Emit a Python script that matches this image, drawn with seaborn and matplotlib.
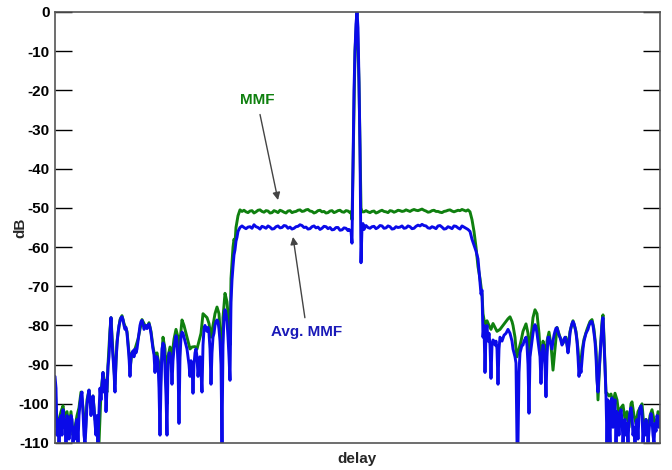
import numpy as np
import pandas as pd
import matplotlib
matplotlib.use("Agg")
import matplotlib.pyplot as plt
import seaborn as sns

# ---------------- data ----------------
yticks = [0, -10, -20, -30, -40, -50, -60, -70, -80, -90, -100, -110]

avg_delay = [
    55, 56, 57, 58, 59, 60, 61, 62, 63, 64, 65, 66, 67, 68, 69, 70, 71, 72, 73, 74,
    75, 76, 77, 78, 79, 80, 81, 82, 83, 84, 85, 86, 87, 88, 89, 90, 91, 92, 93, 94,
    95, 96, 97, 98, 99, 100, 101, 102, 103, 104, 105, 106, 107, 108, 109, 110, 111, 112, 113, 114,
    115, 116, 117, 118, 119, 120, 121, 122, 123, 124, 125, 126, 127, 128, 129, 130, 131, 132, 133, 134,
    135, 136, 137, 138, 139, 140, 141, 142, 143, 144, 145, 146, 147, 148, 149, 150, 151, 152, 153, 154,
    155, 156, 157, 158, 159, 160, 161, 162, 163, 164, 165, 166, 167, 168, 169, 170, 171, 172, 173, 174,
    175, 176, 177, 178, 179, 180, 181, 182, 183, 184, 185, 186, 187, 188, 189, 190, 191, 192, 193, 194,
    195, 196, 197, 198, 199, 200, 201, 202, 203, 204, 205, 206, 207, 208, 209, 210, 211, 212, 213, 214,
    215, 216, 217, 218, 219, 220, 221, 222, 223, 224, 225, 226, 227, 228, 229, 230, 231, 232, 233, 234,
    235, 236, 237, 238, 239, 240,
    242, 244, 246, 248, 250, 252, 254, 256, 258, 260, 262, 264, 266, 268, 270, 272, 274, 276, 278, 280,
    282, 284, 286, 288, 290, 292, 294, 296, 298, 300, 302, 304, 306, 308, 310, 312, 314, 316, 318, 320,
    322, 324, 326, 328, 330, 332, 334, 336, 338, 340, 342, 344, 346, 348, 349,
    351, 352, 353, 354, 355, 356, 357, 358, 359, 360, 361, 362, 363, 364,
    366, 368, 370, 372, 374, 376, 378, 380, 382, 384, 386, 388, 390, 392, 394, 396, 398, 400, 402, 404,
    406, 408, 410, 412, 414, 416, 418, 420, 422, 424, 426, 428, 430, 432, 434, 436, 438, 440, 442, 444,
    446, 448, 450, 452, 454, 456, 458, 460, 462, 464, 466, 468,
    470, 472, 474, 476, 478, 480, 481, 482, 483, 484, 485, 486, 487,
    488, 489, 490, 491, 492, 493, 494, 495, 496, 497, 498, 499, 500, 502, 504, 506, 508, 510, 512, 513,
    514, 515, 516, 517, 518, 519, 520, 521, 522, 523, 524, 525, 526, 527, 528, 529, 530, 531, 532, 533,
    534, 535, 536, 537, 538, 539, 540, 541, 542, 543, 544, 545, 546, 547, 548, 549, 550, 551, 552, 553,
    554, 555, 556, 557, 558, 559, 560, 561, 562, 563, 564, 565, 566, 567, 568, 569, 570, 571, 572, 573,
    574, 575, 576, 577, 578, 579, 580, 581, 582, 583, 584, 585, 586, 587, 588, 589, 590, 591, 592, 593,
    594, 595, 596, 597, 598, 599, 600, 601, 602, 603, 604, 605, 606, 607,
    608, 609, 610, 611, 612, 613, 614, 615, 616, 617, 618, 619, 620, 621, 622, 623, 624, 625, 626, 627,
    628, 629, 630, 631, 632, 633, 634, 635, 636, 637, 638, 639, 640, 641, 642, 643, 644, 645, 646, 647,
    648, 649, 650, 651, 652, 653, 654, 655, 656, 657, 658, 659, 660,
]
avg_db = [
    -93, -96, -108, -104, -110, -105, -103, -108, -101.5, -106, -104, -110, -103, -104, -109, -105, -103, -104, -110, -106,
    -109, -105, -104, -110, -103, -100, -98, -97, -102, -108, -110, -106, -100, -98, -96.5, -99, -103, -100, -98, -101,
    -105, -108, -103, -110, -102, -96, -99, -95, -92, -97, -94, -102, -96, -90.5, -88, -82, -78, -84, -88, -92,
    -97, -89, -85, -82, -80, -79, -78, -77.8, -78.5, -80, -81, -80.5, -82, -85, -88, -93, -88, -87, -86.5, -88,
    -86, -87, -86, -84, -82, -80, -79, -78.7, -79.5, -81, -80.5, -80, -80.8, -80, -79.6, -80.5, -82, -84, -86, -87.5,
    -92, -88, -88, -89, -96, -108, -95, -86, -84.5, -85, -91, -98, -108, -90, -87, -87, -89, -95, -89, -86,
    -84, -82.6, -84, -90, -105, -88, -83, -81.7, -82, -83, -84, -85, -86, -88, -90, -93, -89, -90, -97.3, -90,
    -87, -86, -88, -93, -90, -88, -92, -97, -85, -81, -80, -81, -81.5, -80.5, -82, -86, -95, -87, -83, -82,
    -80, -79, -78.6, -79, -81, -84, -90, -110, -85, -78, -76, -77, -79, -83, -88, -94, -74, -68.4, -65, -62,
    -60.7, -58.5, -57.5, -56, -55.5, -55,
    -54.6, -55.0, -55.3, -54.9, -54.8, -55.2, -54.3, -54.8, -55.0, -55.4, -54.7, -54.9, -55.2, -54.6, -54.9, -55.4, -55.3, -54.8, -54.6, -55.1,
    -55.0, -54.5, -54.6, -55.2, -54.9, -55.4, -55.2, -54.8, -54.7, -54.3, -54.5, -55.0, -54.9, -55.4, -55.3, -54.8, -54.6, -55.1, -54.9, -55.5,
    -55.2, -54.7, -54.8, -55.3, -55.0, -55.6, -55.5, -55.0, -55.0, -55.7, -55.6, -55.1, -55.2, -55.8, -55.5,
    -56, -59, -40, -20, -10, -3, 0, -4, -18, -35, -64, -55, -54, -55.5,
    -54.5, -55.0, -55.2, -54.8, -54.7, -55.3, -55.0, -54.5, -54.6, -55.2, -55.1, -54.6, -54.8, -55.4, -55.3, -54.8, -55.0, -54.9, -54.6, -55.2,
    -55.1, -54.6, -54.8, -55.3, -55.2, -54.7, -54.4, -54.6, -54.2, -54.5, -54.6, -55.1, -55.2, -54.8, -55.0, -55.3, -54.6, -54.5, -54.9, -55.4,
    -55.3, -54.8, -55.0, -55.3, -54.6, -54.7, -55.1, -55.4, -54.6, -54.9, -55.2, -55.5,
    -56, -58, -59.5, -61, -63, -69, -72, -71, -83, -80, -92, -82, -80,
    -84, -82, -85, -93.5, -85, -83.7, -84, -85, -84, -86, -95, -86, -83, -84, -82.5, -82, -81, -82, -84, -86,
    -87, -88, -89.6, -110, -110, -92, -87, -86, -85, -85, -84, -83.5, -83, -85, -90, -102.4, -88, -86, -84, -82,
    -80.5, -79.8, -80.5, -82, -84, -86, -88, -94.8, -88, -85, -86, -90, -98.2, -88, -83, -83, -84, -85, -86, -84,
    -82.5, -81.5, -80.7, -80.6, -81.5, -82.5, -83, -84, -85, -84.5, -83.5, -83, -83.5, -85, -87, -85, -82, -80.5, -79.5, -79,
    -79.5, -80.5, -82, -84, -88, -93, -90, -92, -89, -86, -84, -83, -82, -81.5, -81, -80, -79.5, -79, -79, -80,
    -82, -84, -88, -94, -97, -92, -88, -84, -80, -78, -84, -90.6, -98, -110,
    -99, -104, -110, -100, -98.5, -106, -101, -99, -110, -102, -104, -108, -103, -101.5, -104, -110, -106, -104, -108, -105,
    -110, -104, -102, -101, -103, -108, -106, -110, -105, -104, -109, -103, -101, -100.5, -102, -110, -105, -108, -104, -106,
    -110, -107, -104, -102.5, -104, -108, -110, -105, -107, -103, -104, -106, -103,
]

mmf_delay = [
    55, 57, 59, 61, 63, 65, 67, 69, 71, 73, 75, 77, 79, 81, 83, 85, 87, 89, 91, 93,
    95, 97, 98, 99, 101, 103, 105, 107, 108, 110, 111, 113, 115, 117, 120, 122, 124, 127, 129, 130,
    132, 135, 138, 142, 145, 147, 149, 151, 153, 155, 157, 159, 160, 161, 163, 165, 167, 168, 170, 172,
    174, 176, 178, 179, 180, 182, 184, 186, 188, 190, 192, 195, 197, 199, 201, 203, 205, 207, 209, 211,
    213, 215, 217, 219, 221, 222, 223, 225, 227, 229, 230, 231, 232, 233, 234, 235, 236, 238, 240,
    242, 244, 246, 248, 250, 252, 254, 256, 258, 260, 262, 264, 266, 268, 270, 272, 274, 276, 278, 280,
    282, 284, 286, 288, 290, 292, 294, 296, 298, 300, 302, 304, 306, 308, 310, 312, 314, 316, 318, 320,
    322, 324, 326, 328, 330, 332, 334, 336, 338, 340, 342, 344, 346, 348, 350, 351,
    352, 353, 355, 357, 359, 361, 362,
    364, 366, 368, 370, 372, 374, 376, 378, 380, 382, 384, 386, 388, 390, 392, 394, 396, 398, 400, 402,
    404, 406, 408, 410, 412, 414, 416, 418, 420, 422, 424, 426, 428, 430, 432, 434, 436, 438, 440, 442,
    444, 446, 448, 450, 452, 454, 456, 458, 460, 462, 464, 466, 468,
    470, 472, 474, 476, 478, 480, 482, 483, 485, 487, 489, 491, 493,
    495, 497, 500, 503, 506, 508, 510, 512, 513, 515, 516, 517, 519, 521, 523, 526, 528, 529, 531, 533,
    535, 537, 539, 541, 543, 545, 546, 547, 549, 551, 553, 555, 557, 560, 563, 566, 568, 570, 573, 576,
    578, 579, 581, 582, 584, 587, 590, 592, 594, 596, 598, 600, 602, 603, 604, 605, 606,
    607, 609, 611, 613, 615, 617, 619, 621, 623, 625, 627, 629, 631, 632, 634, 636, 638, 640, 642, 644,
    646, 648, 650, 652, 654, 656, 658, 660,
]
mmf_db = [
    -95, -106, -104, -102, -100.5, -104, -102, -106, -102, -108, -106, -103, -101, -97, -101, -109, -99, -96.5, -101, -98,
    -104, -105, -110, -110, -97, -92, -95, -97, -90, -81, -78, -87, -95, -84, -78.5, -77.5, -79.5, -81.5, -87, -91,
    -87, -86, -83.5, -78.5, -80, -80.5, -79.3, -81.5, -85.5, -88, -87, -90, -100, -92, -83, -86, -100, -88, -85.5, -88,
    -83.5, -81, -83, -95, -84, -78.6, -80, -82, -84, -86, -85.5, -85.4, -86, -84, -82, -77, -77.5, -78, -79.5, -83,
    -80, -77, -75.3, -77, -85, -95, -78, -71.8, -74, -80, -85, -68, -64, -60, -58, -59, -55, -52, -50.5,
    -50.9, -50.6, -51.0, -51.2, -50.8, -50.7, -51.3, -51.0, -50.6, -50.5, -50.9, -51.1, -50.7, -50.8, -51.3, -51.2, -50.7, -50.9, -51.2, -50.6,
    -50.8, -51.1, -51.3, -50.8, -50.7, -51.2, -51.0, -50.9, -50.6, -50.5, -50.9, -50.8, -50.5, -50.4, -50.8, -50.9, -51.3, -51.1, -50.7, -50.6,
    -51.0, -50.9, -51.3, -51.2, -50.8, -50.7, -51.2, -51.0, -50.7, -50.6, -51.0, -51.1, -50.7, -50.8, -51.2, -51.0,
    -53, -40, -10, 0, -18, -50, -51,
    -51.0, -50.7, -51.0, -51.2, -50.9, -50.8, -51.3, -51.1, -50.8, -50.6, -50.9, -51.0, -51.2, -50.7, -50.8, -51.1, -50.9, -50.6, -50.7, -50.9,
    -50.8, -50.5, -50.7, -50.9, -50.6, -50.4, -50.6, -50.7, -50.5, -50.3, -50.6, -50.8, -51.1, -51.0, -50.7, -50.6, -50.9, -50.9, -51.1, -51.2,
    -50.9, -50.8, -50.6, -50.5, -50.8, -51.0, -50.8, -50.6, -50.7, -50.4, -50.6, -50.8, -50.5,
    -51, -53, -56, -60, -65, -68, -72, -77, -80, -78.8, -80, -81, -79.5,
    -80.5, -81.5, -81, -80, -79, -78.3, -77.8, -79, -80, -83, -86, -88, -86, -84, -81.5, -79.6, -82, -90, -83, -78,
    -76, -77, -82, -90, -84, -86, -90, -84, -81.7, -85, -91.4, -86, -80.5, -83, -84.5, -83, -86.5, -81.5, -78.8, -81.5,
    -86, -90, -89, -86.5, -83.5, -81, -79, -78.5, -81, -86, -99, -88, -79, -77.3, -83, -90, -97.3,
    -97.3, -98, -97.5, -100, -97.3, -99, -103, -101, -100.3, -104, -102, -106, -100, -99.5, -103, -105, -102, -101, -100, -106,
    -104, -107, -103, -101.5, -104, -106, -102, -102.5,
]

# ---------------- style ----------------
sns.set_style("white")
plt.rcParams['font.family'] = ['Liberation Sans', 'DejaVu Sans']

GREEN = '#0f800f'
BLUE = '#0a0ae8'
FS = 11

fig = plt.figure(figsize=(6.72, 4.70), dpi=100)
ax = fig.add_axes([55 / 672, 1 - 443 / 470, 605 / 672, 431 / 470])

df_mmf = pd.DataFrame({'delay': mmf_delay, 'dB': mmf_db})
df_avg = pd.DataFrame({'delay': avg_delay, 'dB': avg_db})

sns.lineplot(data=df_mmf, x='delay', y='dB', ax=ax, color=GREEN, lw=2.1,
             sort=False, estimator=None)
sns.lineplot(data=df_avg, x='delay', y='dB', ax=ax, color=BLUE, lw=2.1,
             sort=False, estimator=None)

ax.set_xlim(55, 660)
ax.set_ylim(-110, 0)
ax.set_yticks(yticks)
ax.set_yticklabels([str(t) for t in yticks])
ax.set_xticks([])
ax.tick_params(axis='y', direction='in', length=12, width=1.0, colors='black',
               left=True, right=True, labelsize=FS, pad=4)
for t in ax.get_yticklabels():
    t.set_fontweight('bold')
for s in ax.spines.values():
    s.set_visible(True)
    s.set_color('#555555')
    s.set_linewidth(1.2)

ax.set_xlabel('delay', fontweight='bold', fontsize=FS)
ax.set_ylabel('dB', fontweight='bold', fontsize=FS)
ax.xaxis.set_label_coords(0.5, -0.02)
ax.yaxis.set_label_coords(-0.046, 0.5)

arrow = dict(arrowstyle='-|>', color='#444444', lw=1.0, mutation_scale=11,
             shrinkA=3, shrinkB=0)
ax.annotate('MMF', xy=(278, -48.0), xytext=(257, -22.5), ha='center', va='center',
            color=GREEN, fontweight='bold', fontsize=FS, arrowprops=arrow)
ax.annotate('Avg. MMF', xy=(293, -57.4), xytext=(307, -81.7), ha='center', va='center',
            color='#1a1ab8', fontweight='bold', fontsize=FS, arrowprops=arrow)

fig.savefig('out.png', dpi=100)
